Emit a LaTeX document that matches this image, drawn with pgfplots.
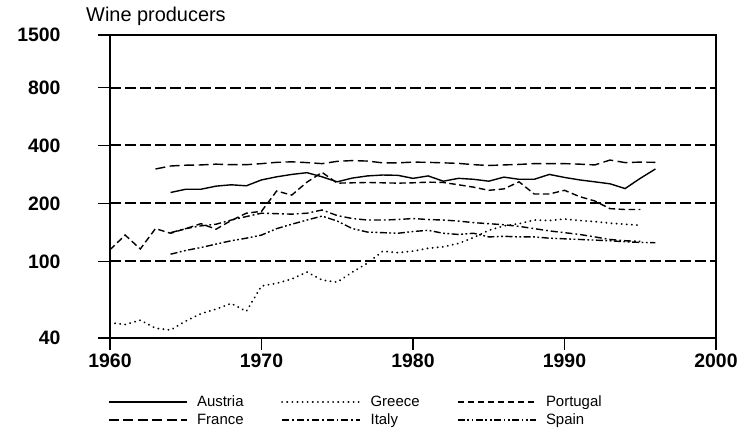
\documentclass[border=0pt]{standalone}
\usepackage{fontspec}
\setmainfont{Liberation Sans}
\usepackage{pgfplots}
\pgfplotsset{compat=1.18}

\begin{document}
\begin{tikzpicture}
\path[use as bounding box] (-110bp,-97bp) rectangle (631bp,338bp);
\begin{axis}[
  at={(0,0)}, anchor=south west,
  scale only axis, width=606bp, height=303bp,
  xmin=1960, xmax=2000,
  ymode=log, ymin=40, ymax=1500,
  xtick={1960,1970,1980,1990,2000},
  xticklabels={\textbf{1960},\textbf{1970},\textbf{1980},\textbf{1990},\textbf{2000}},
  ytick={40,100,200,400,800,1500},
  yticklabels={\textbf{40},\textbf{100},\textbf{200},\textbf{400},\textbf{800},\textbf{1500}},
  yminorticks=false, xminorticks=false,
  tick align=outside, xtick pos=bottom, ytick pos=left,
  major tick length=12bp,
  tick style={line width=1.5bp, black},
  axis line style={line width=1.6bp, black},
  ymajorgrids,
  major grid style={dash pattern=on 11bp off 4bp, line width=2bp, black},
  ticklabel style={font=\fontsize{19.5}{22}\selectfont},
  yticklabel style={anchor=east, xshift=-34bp},
  xticklabel style={anchor=north, yshift=0bp},
  legend columns=3,
  legend cell align=left,
  legend image code/.code={\draw[#1] (0bp,0bp) -- (78bp,0bp);},
  legend style={draw=none, fill=none, at={(0,0)}, anchor=north west,
    xshift=-2bp, yshift=-56bp, inner sep=0pt,
    font=\fontsize{15}{17}\selectfont,
    nodes={inner sep=1.5bp},
    row sep=3bp,
    /tikz/every odd column/.append style={column sep=8bp},
    /tikz/every even column/.append style={column sep=36bp}},
  every axis plot/.append style={line width=1.4bp, black},
]
% Austria
\addplot[solid] coordinates {
(1964,228)(1965,237)(1966,237)(1967,246)(1968,250)(1969,247)(1970,265)(1971,275)
(1972,283)(1973,289)(1974,275)(1975,259)(1976,271)(1977,278)(1978,281)(1979,280)
(1980,270)(1981,278)(1982,261)(1983,270)(1984,267)(1985,261)(1986,274)(1987,267)
(1988,267)(1989,283)(1990,273)(1991,265)(1992,259)(1993,253)(1994,239)(1995,270)(1996,302)};
\addlegendentry{Austria}
% Greece
\addplot[line cap=round, dash pattern=on 0.1bp off 5bp, line width=2bp] coordinates {
(1960,48)(1961,47)(1962,49.5)(1963,45)(1964,44)(1965,49)(1966,53.5)(1967,56.5)
(1968,60.5)(1969,55)(1970,74.5)(1971,77)(1972,81)(1973,88)(1974,80)(1975,78)
(1976,88)(1977,98)(1978,113)(1979,111)(1980,113)(1981,117)(1982,119)(1983,124)
(1984,133)(1985,145)(1986,153)(1987,157)(1988,164)(1989,163)(1990,166)(1991,163)
(1992,161)(1993,158)(1994,156)(1995,154)};
\addlegendentry{Greece}
% Portugal
\addplot[dash pattern=on 6.5bp off 3.5bp] coordinates {
(1960,115)(1961,137)(1962,116)(1963,148)(1964,140)(1965,148)(1966,157)(1967,147)
(1968,163)(1969,178)(1970,182)(1971,232)(1972,221)(1973,258)(1974,290)(1975,255)
(1976,256)(1977,257)(1978,256)(1979,255)(1980,256)(1981,258)(1982,257)(1983,250)
(1984,243)(1985,234)(1986,238)(1987,259)(1988,224)(1989,224)(1990,234)(1991,217)
(1992,206)(1993,188)(1994,186)(1995,186)};
\addlegendentry{Portugal}
% France
\addplot[dash pattern=on 10bp off 4.5bp] coordinates {
(1963,302)(1964,313)(1965,316)(1966,317)(1967,320)(1968,318)(1969,318)(1970,322)
(1971,327)(1972,329)(1973,326)(1974,322)(1975,331)(1976,334)(1977,332)(1978,325)
(1979,325)(1980,328)(1981,327)(1982,325)(1983,323)(1984,318)(1985,315)(1986,317)
(1987,319)(1988,322)(1989,322)(1990,322)(1991,320)(1992,317)(1993,336)(1994,326)
(1995,328)(1996,327)};
\addlegendentry{France}
% Italy
\addplot[dash pattern=on 7bp off 3bp on 1.8bp off 3bp] coordinates {
(1964,141)(1965,148)(1966,153)(1967,156)(1968,164)(1969,171)(1970,178)(1971,177)
(1972,176)(1973,178)(1974,185)(1975,173)(1976,167)(1977,164)(1978,164)(1979,165)
(1980,167)(1981,165)(1982,164)(1983,162)(1984,159)(1985,157)(1986,155)(1987,152)
(1988,148)(1989,144)(1990,141)(1991,138)(1992,134)(1993,130)(1994,128)(1995,127)};
\addlegendentry{Italy}
% Spain
\addplot[dash pattern=on 7bp off 2.5bp on 1.8bp off 2.5bp on 1.8bp off 2.5bp] coordinates {
(1964,109)(1965,114)(1966,118)(1967,123)(1968,128)(1969,132)(1970,137)(1971,148)
(1972,156)(1973,164)(1974,172)(1975,162)(1976,148)(1977,142)(1978,141)(1979,140)
(1980,143)(1981,145)(1982,140)(1983,138)(1984,140)(1985,134)(1986,135)(1987,134)
(1988,134)(1989,132)(1990,131)(1991,130)(1992,129)(1993,128)(1994,126.5)(1995,125.5)(1996,125)};
\addlegendentry{Spain}
\end{axis}
\node[anchor=base west, inner sep=0pt, font=\fontsize{20}{24}\selectfont] at (-24bp,316bp) {Wine producers};
\end{tikzpicture}
\end{document}
